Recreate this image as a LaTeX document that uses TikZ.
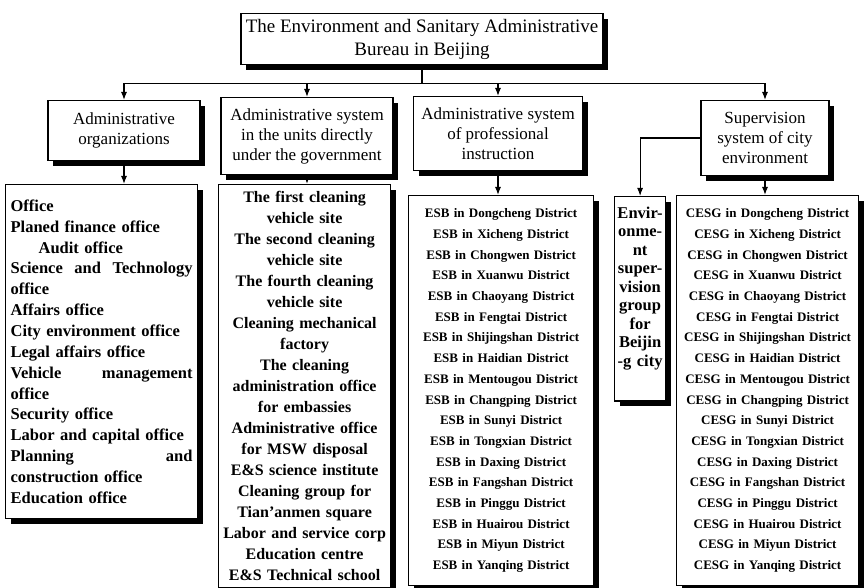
\documentclass[tikz,border=0pt]{standalone}
\usepackage{fontspec}
\setmainfont{Liberation Serif}
\usetikzlibrary{arrows.meta,shadows}

\newcommand\districtlist[1]{#1 in Dongcheng District\\#1 in Xicheng District\\#1 in Chongwen District\\#1 in Xuanwu District\\#1 in Chaoyang District\\#1 in Fengtai District\\#1 in Shijingshan District\\#1 in Haidian District\\#1 in Mentougou District\\#1 in Changping District\\#1 in Sunyi District\\#1 in Tongxian District\\#1 in Daxing District\\#1 in Fangshan District\\#1 in Pinggu District\\#1 in Huairou District\\#1 in Miyun District\\#1 in Yanqing District}
\newcommand\spreadline[1]{\leavevmode\hbox to 182pt{#1}}

\begin{document}
\begin{tikzpicture}[x=1pt, y=-1pt,
		box/.style={draw, line width=1.2pt, fill=white, inner sep=2pt, align=center,
			general shadow={fill=black, shadow xshift=5pt, shadow yshift=-5pt}},
		head/.style={box, anchor=north, font=\fontsize{17}{20}\selectfont},
		listbox/.style={box, anchor=north west, inner xsep=4pt, font=\fontsize{16.5}{20.85}\selectfont\bfseries},
		district/.style={listbox, font=\fontsize{13}{20.7}\selectfont\bfseries},
		arrow/.style={-{Latex[length=8pt,width=6pt]}, line width=1.2pt}
		]
		\useasboundingbox (0,0) rectangle (864,588);
		\node[box, anchor=north, minimum width=362pt, minimum height=51pt, font=\fontsize{19}{23}\selectfont] (bureau) at (422,13)
			{The Environment and Sanitary Administrative\\Bureau in Beijing};
		\node[head, minimum width=152pt, minimum height=60pt] (adminorg) at (124,100) {Administrative\\organizations};
		\node[head, minimum width=172pt, minimum height=77pt] (directunits) at (307,97)
			{Administrative system\\in the units directly\\under the government};
		\node[head, minimum width=169pt, minimum height=74pt] (profinstr) at (498,96)
			{Administrative system\\of professional\\instruction};
		\node[head, minimum width=128pt, minimum height=75pt] (supervision) at (765,100)
			{Supervision\\system of city\\environment};
		\node[listbox, align=left, text width=182pt, inner xsep=5pt, minimum height=334pt] (officelist) at (5,184)
			{Office\\Planed finance office\\\hspace*{1.7em}Audit office\\
			\spreadline{Science\hfill and\hfill Technology}\\office\\Affairs office\\
			City environment office\\Legal affairs office\\\spreadline{Vehicle\hfill management}\\
			office\\Security office\\Labor and capital office\\\spreadline{Planning\hfill and}\\
			construction office\\Education office};
		\node[listbox, text width=166pt, inner xsep=3pt, minimum height=403pt,
			font=\fontsize{16}{21}\selectfont\bfseries] (unitlist) at (218,184)
			{The first cleaning\\vehicle site\\The second cleaning\\vehicle site\\The fourth cleaning\\vehicle site\\
			Cleaning mechanical\\factory\\The cleaning\\administration office\\for embassies\\
			Administrative office\\for MSW disposal\\E\&S science institute\\Cleaning group for\\
			Tian’anmen square\\Labor and service corp\\Education centre\\E\&S Technical school};
		\node[district, text width=177pt, minimum height=390pt] (esblist) at (408,195) {\districtlist{ESB}};
		\node[listbox, text width=47pt, inner xsep=2pt, inner ysep=10pt, text depth=173pt,
			font=\fontsize{16.5}{18.5}\selectfont\bfseries] (envgroup) at (614,196)
			{Envir-\\onme-\\nt\\super-\\vision\\group\\for\\Beijin\\-g city};
		\node[district, text width=174pt, minimum height=390pt] (cesglist) at (676,195) {\districtlist{CESG}};
		\coordinate (bus) at ([yshift=-18pt]bureau.south);
		\draw[line width=1.2pt] (bureau.south) -- (bus);
		\draw[line width=1.2pt] (adminorg.north |- bus) -- (supervision.north |- bus);
		\foreach \n in {adminorg,directunits,profinstr,supervision}
			\draw[arrow] (\n.north |- bus) -- (\n.north);
		\draw[arrow] (adminorg.south) -- (adminorg.south |- officelist.north);
		\draw[arrow] (directunits.south) -- (directunits.south |- unitlist.north);
		\draw[arrow] (profinstr.south) -- (profinstr.south |- esblist.north);
		\draw[arrow] (supervision.south) -- (supervision.south |- cesglist.north);
		\draw[arrow] (supervision.west) -| (envgroup.north);
\end{tikzpicture}
\end{document}
